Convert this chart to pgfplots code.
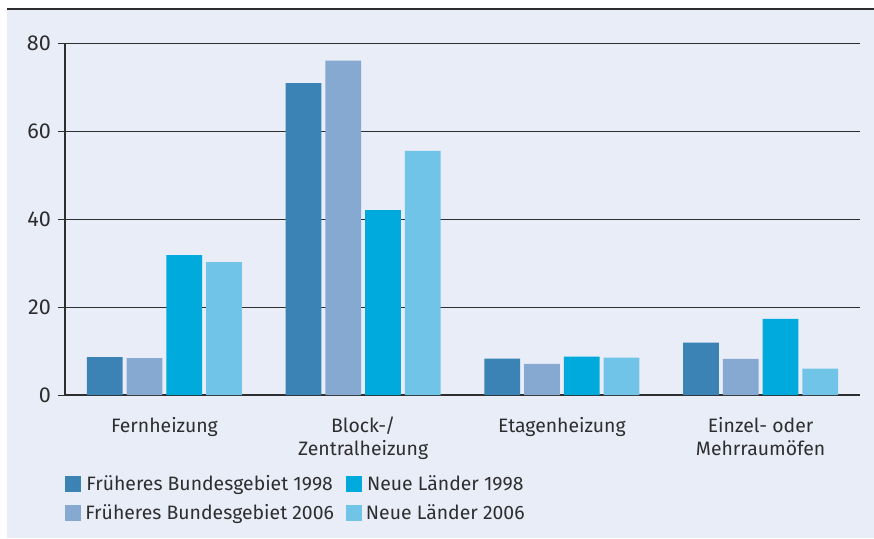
\documentclass[border=0pt]{standalone}
\usepackage{fontspec}
\setmainfont{Fira Sans}
\usepackage{pgfplots}
\pgfplotsset{compat=1.18}
\definecolor{panel}{HTML}{E9EDF8}
\definecolor{ink}{HTML}{2E2E30}
\definecolor{fb98}{HTML}{3B82B5}
\definecolor{fb06}{HTML}{85A9D0}
\definecolor{nl98}{HTML}{00AADD}
\definecolor{nl06}{HTML}{70C4E8}

\begin{document}
\begin{tikzpicture}
  \useasboundingbox (0,0) rectangle (437pt,269pt);
  \fill[white] (0,0) rectangle (437pt,269pt);
  \fill[panel] (3.5pt,0) rectangle (437pt,264.5pt);
  \draw[ink, line width=1pt] (3.5pt,264.5pt) -- (437pt,264.5pt);
  \begin{axis}[
    at={(32.5pt,71.5pt)}, anchor=south west,
    scale only axis, width=397.5pt, height=176pt,
    font=\fontsize{9.7}{11.5}\selectfont,
    /pgf/number format/assume math mode=true,
    ybar, bar width=0.18,
    xmin=-0.5, xmax=3.5, ymin=0, ymax=80,
    xtick={0,1,2,3},
    xticklabels={Fernheizung,{Block-/\\Zentralheizung},Etagenheizung,{Einzel- oder\\Mehrraumöfen}},
    xticklabel style={align=center, text=ink, yshift=-4pt},
    ytick={0,20,40,60,80},
    yticklabel style={text=ink, font=\fontsize{10.8}{12}\selectfont},
    major x tick style={draw=none},
    major y tick style={ink, line width=0.5pt},
    tick align=outside, major tick length=3.5pt,
    axis x line*=bottom, axis y line*=left,
    axis line style={ink, line width=0.6pt, -},
    ymajorgrids, grid style={ink, line width=0.5pt},
    legend columns=2, transpose legend,
    legend style={at={(0,-0.215)}, anchor=north west, draw=none, fill=none,
      text=ink, row sep=1.5pt, inner sep=0pt,
      /tikz/every even column/.append style={column sep=4pt}},
    legend image code/.code={\fill[#1,draw=none] (0pt,-4pt) rectangle (8pt,4pt);},
  ]
    \addplot[fill=fb98, draw=none, bar shift=-0.3] coordinates {(0,8.6) (1,70.9) (2,8.25) (3,11.9)};
    \addplot[fill=fb06, draw=none, bar shift=-0.1] coordinates {(0,8.4) (1,76.0) (2,7.1) (3,8.2)};
    \addplot[fill=nl98, draw=none, bar shift=0.1] coordinates {(0,31.8) (1,42.0) (2,8.7) (3,17.3)};
    \addplot[fill=nl06, draw=none, bar shift=0.3] coordinates {(0,30.2) (1,55.5) (2,8.5) (3,6.0)};
    \legend{Früheres Bundesgebiet 1998, Früheres Bundesgebiet 2006, Neue Länder 1998, Neue Länder 2006}
  \end{axis}
\end{tikzpicture}
\end{document}
